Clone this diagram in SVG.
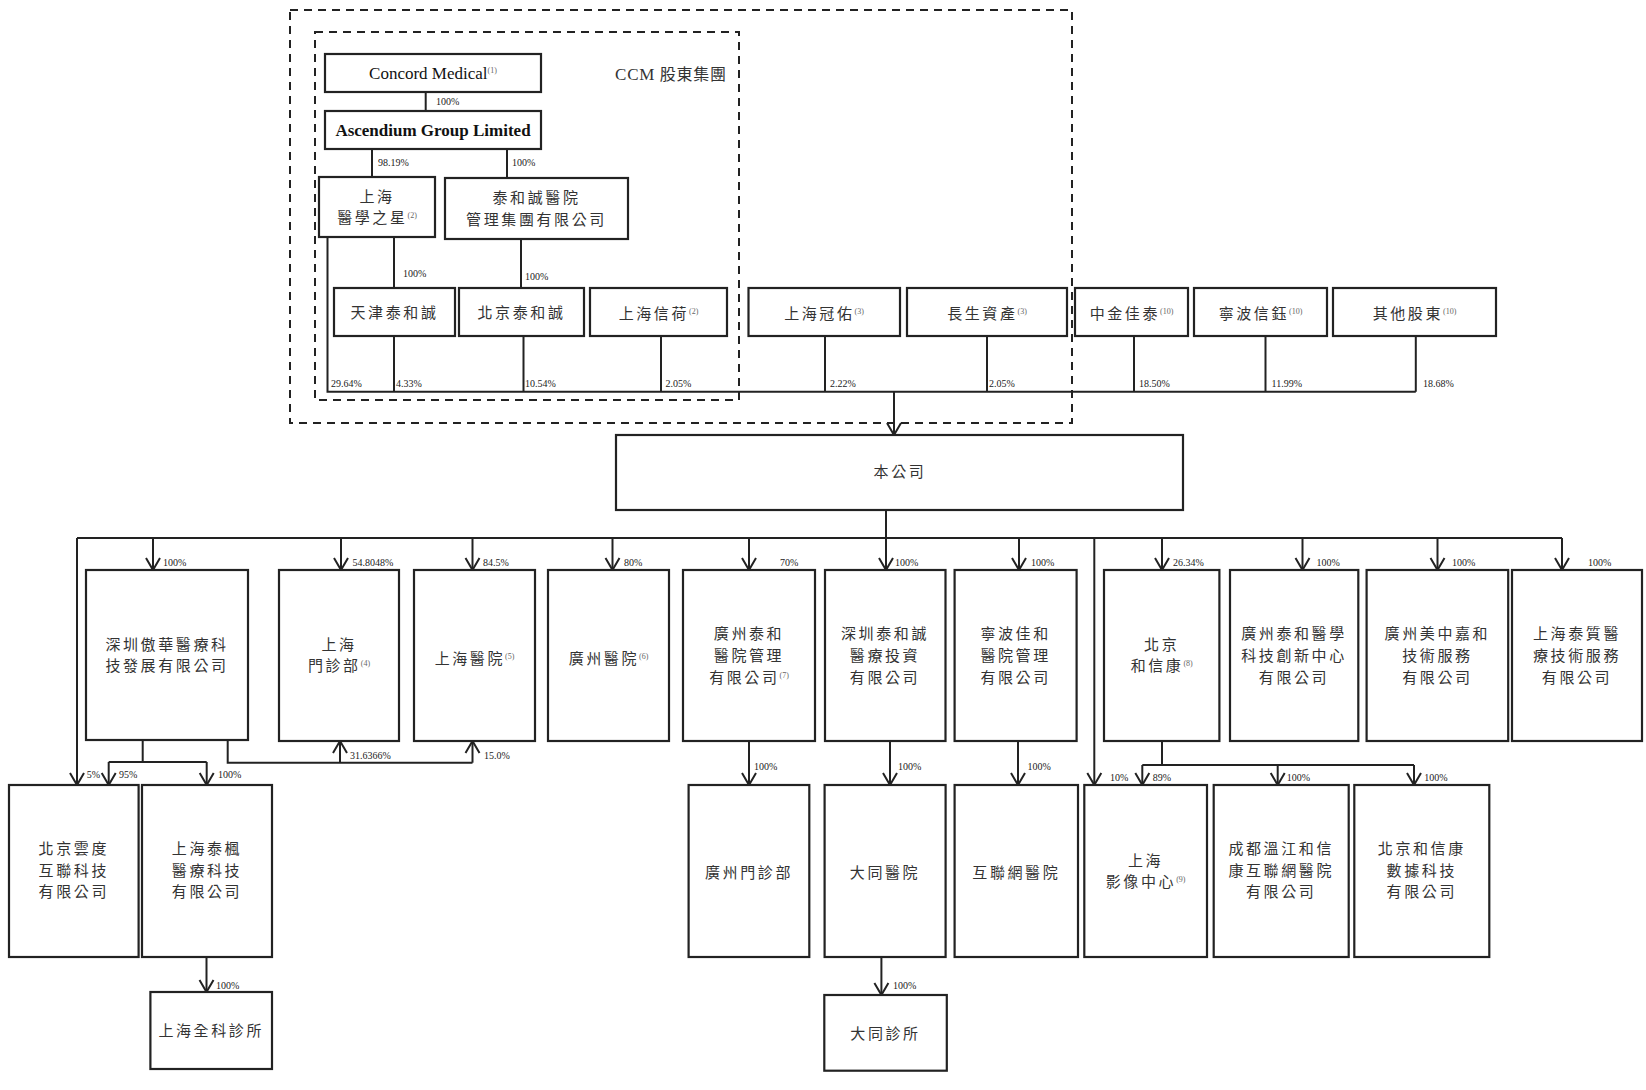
<svg xmlns="http://www.w3.org/2000/svg" width="1646" height="1090" viewBox="0 0 1646 1090">
<defs>
<style>
.bx{fill:#fff;stroke:#222;stroke-width:2.2}
.t{font-family:"Noto Sans CJK TC","Noto Sans CJK SC",sans-serif;font-size:15px;fill:#333;letter-spacing:2.6px;text-anchor:middle}
.e{font-family:"Liberation Serif",serif;font-size:17px;fill:#111;text-anchor:middle}
.p{font-family:"Liberation Serif",serif;font-size:10px;fill:#222}
.s{font-family:"Liberation Serif",serif;font-size:8px;fill:#666;letter-spacing:0}
.ln{fill:none;stroke:#222;stroke-width:2}
.ar{fill:none;stroke:#222;stroke-width:2;marker-end:url(#arr)}
.dash{fill:none;stroke:#222;stroke-width:2;stroke-dasharray:8 6}
</style>
<marker id="arr" markerUnits="userSpaceOnUse" viewBox="-14 -8 16 16" refX="0" refY="0" markerWidth="16" markerHeight="16" orient="auto" overflow="visible">
<path d="M-12,-7 L0,0 L-12,7" fill="none" stroke="#222" stroke-width="2"/>
</marker>
</defs>
<rect width="1646" height="1090" fill="#fff"/>

<g id="groups">
<rect class="dash" x="290" y="10" width="782" height="413"/>
<rect class="dash" x="315" y="32" width="424" height="368"/>
<text x="671" y="80" class="t" style="letter-spacing:0.8px;font-size:16px"><tspan font-family="Liberation Serif" font-size="17">CCM</tspan> 股東集團</text>
</g>

<g id="connectors">
<path class="ln" d="M425.7,92 V111"/>
<path class="ln" d="M372,149 V177"/>
<path class="ln" d="M507,149 V178"/>
<path class="ln" d="M394,237 V288"/>
<path class="ln" d="M521,239 V288"/>
<path class="ln" d="M327.5,237 V391.7 H1415.8"/>
<path class="ln" d="M394,336 V391.7 M523.5,336 V391.7 M661,336 V391.7 M825,336 V391.7 M987,336 V391.7 M1134,336 V391.7 M1265.5,336 V391.7 M1415.8,336 V391.7"/>
<path class="ar" d="M894,391.7 V435"/>
<path class="ar" d="M886,510 V570"/>
<path class="ln" d="M77,538 H1562"/>
<path class="ar" d="M77,538 V785"/>
<path class="ar" d="M1094.3,538 V785"/>
<path class="ar" d="M153,538 V570"/>
<path class="ar" d="M341,538 V570"/>
<path class="ar" d="M472.5,538 V570"/>
<path class="ar" d="M612.5,538 V570"/>
<path class="ar" d="M749,538 V570"/>
<path class="ar" d="M1019,538 V570"/>
<path class="ar" d="M1162,538 V570"/>
<path class="ar" d="M1302.5,538 V570"/>
<path class="ar" d="M1437.5,538 V570"/>
<path class="ar" d="M1562,538 V570"/>
<path class="ln" d="M142.7,740 V762 M108.7,762 H206.7"/>
<path class="ar" d="M108.7,762 V785"/>
<path class="ar" d="M206.7,762 V785"/>
<path class="ln" d="M227.7,740 V762.7 H472.5"/>
<path class="ar" d="M340,762.7 V741"/>
<path class="ar" d="M472.5,762.7 V741"/>
<path class="ar" d="M206.5,957 V992"/>
<path class="ar" d="M749,741 V785"/>
<path class="ar" d="M890,741 V785"/>
<path class="ar" d="M881.4,957 V995"/>
<path class="ar" d="M1018,741 V785"/>
<path class="ln" d="M1162,741 V765 M1142.3,765 H1414"/>
<path class="ar" d="M1142.3,765 V785"/>
<path class="ar" d="M1277.7,765 V785"/>
<path class="ar" d="M1414,765 V785"/>
</g>

<g id="labels">
<text class="p" x="436" y="105">100%</text>
<text class="p" x="378" y="166">98.19%</text>
<text class="p" x="512" y="166">100%</text>
<text class="p" x="403" y="277">100%</text>
<text class="p" x="525" y="280">100%</text>
<text class="p" x="331" y="387">29.64%</text>
<text class="p" x="396" y="387">4.33%</text>
<text class="p" x="525" y="387">10.54%</text>
<text class="p" x="665.5" y="387">2.05%</text>
<text class="p" x="830" y="387">2.22%</text>
<text class="p" x="989" y="387">2.05%</text>
<text class="p" x="1139" y="387">18.50%</text>
<text class="p" x="1271.5" y="387">11.99%</text>
<text class="p" x="1423" y="387">18.68%</text>
<text class="p" x="163" y="566">100%</text>
<text class="p" x="352.5" y="566">54.8048%</text>
<text class="p" x="483" y="566">84.5%</text>
<text class="p" x="624" y="566">80%</text>
<text class="p" x="780" y="566">70%</text>
<text class="p" x="895" y="566">100%</text>
<text class="p" x="1031" y="566">100%</text>
<text class="p" x="1173" y="566">26.34%</text>
<text class="p" x="1316.5" y="566">100%</text>
<text class="p" x="1452" y="566">100%</text>
<text class="p" x="1588" y="566">100%</text>
<text class="p" x="86.7" y="778">5%</text>
<text class="p" x="119" y="778">95%</text>
<text class="p" x="218" y="778">100%</text>
<text class="p" x="350" y="759">31.6366%</text>
<text class="p" x="484" y="759">15.0%</text>
<text class="p" x="754" y="770">100%</text>
<text class="p" x="898" y="770">100%</text>
<text class="p" x="1027.5" y="770">100%</text>
<text class="p" x="1110" y="781">10%</text>
<text class="p" x="1152.7" y="781">89%</text>
<text class="p" x="1286.7" y="781">100%</text>
<text class="p" x="1424.3" y="781">100%</text>
<text class="p" x="216" y="989">100%</text>
<text class="p" x="893" y="989">100%</text>
</g>

<g id="concord-medical"><rect class="bx" x="325" y="54" width="216" height="38"/><text class="e" x="433" y="79">Concord Medical<tspan class="s" font-size="9" fill="#222" dy="-6">(1)</tspan></text></g>
<g id="ascendium"><rect class="bx" x="325" y="111" width="216" height="38"/><text class="e" x="433" y="136" font-weight="bold" font-size="16.5">Ascendium Group Limited</text></g>
<g id="shanghai-yixuezhixing"><rect class="bx" x="319" y="177" width="116" height="60"/><text class="t"><tspan x="377" y="201.6">上海</tspan><tspan x="377" y="223.4">醫學之星<tspan class="s" dy="-5">(2)</tspan></tspan></text></g>
<g id="taihecheng-group"><rect class="bx" x="445" y="178" width="183" height="61"/><text class="t"><tspan x="536.5" y="203.1">泰和誠醫院</tspan><tspan x="536.5" y="224.9">管理集團有限公司</tspan></text></g>

<g id="tianjin-taihecheng"><rect class="bx" x="334" y="288" width="121" height="48"/><text class="t" x="394.5" y="318">天津泰和誠</text></g>
<g id="beijing-taihecheng"><rect class="bx" x="459" y="288" width="125" height="48"/><text class="t" x="521.5" y="318">北京泰和誠</text></g>
<g id="shanghai-xinhe"><rect class="bx" x="590" y="288" width="137" height="48"/><text class="t" x="658.5" y="319">上海信荷<tspan class="s" dy="-5">(2)</tspan></text></g>
<g id="shanghai-guanyou"><rect class="bx" x="748.5" y="288" width="151.5" height="48"/><text class="t" x="824" y="319">上海冠佑<tspan class="s" dy="-5">(3)</tspan></text></g>
<g id="changsheng"><rect class="bx" x="907" y="288" width="160" height="48"/><text class="t" x="987" y="319">長生資產<tspan class="s" dy="-5">(3)</tspan></text></g>
<g id="zhongjin-jiatai"><rect class="bx" x="1075" y="288" width="113" height="48"/><text class="t" x="1131.5" y="319">中金佳泰<tspan class="s" dy="-5">(10)</tspan></text></g>
<g id="ningbo-xinyu"><rect class="bx" x="1194" y="288" width="133" height="48"/><text class="t" x="1260.5" y="319">寧波信鈺<tspan class="s" dy="-5">(10)</tspan></text></g>
<g id="other-shareholders"><rect class="bx" x="1333" y="288" width="163" height="48"/><text class="t" x="1414.5" y="319">其他股東<tspan class="s" dy="-5">(10)</tspan></text></g>

<g id="company"><rect class="bx" x="616" y="435" width="567" height="75"/><text class="t" x="900" y="477">本公司</text></g>

<g id="shenzhen-aohua"><rect class="bx" x="86" y="570" width="162" height="170"/><text class="t"><tspan x="167" y="649.6">深圳傲華醫療科</tspan><tspan x="167" y="671.4">技發展有限公司</tspan></text></g>
<g id="shanghai-clinic"><rect class="bx" x="279" y="570" width="120" height="171"/><text class="t"><tspan x="339" y="649.6">上海</tspan><tspan x="339" y="671.4">門診部<tspan class="s" dy="-5">(4)</tspan></tspan></text></g>
<g id="shanghai-hospital"><rect class="bx" x="414" y="570" width="121" height="171"/><text class="t" x="474.5" y="664">上海醫院<tspan class="s" dy="-5">(5)</tspan></text></g>
<g id="guangzhou-hospital"><rect class="bx" x="548" y="570" width="121" height="171"/><text class="t" x="608.5" y="664">廣州醫院<tspan class="s" dy="-5">(6)</tspan></text></g>
<g id="guangzhou-taihe"><rect class="bx" x="683" y="570" width="132" height="171"/><text class="t"><tspan x="749" y="639.2">廣州泰和</tspan><tspan x="749" y="661">醫院管理</tspan><tspan x="749" y="682.8">有限公司<tspan class="s" dy="-5">(7)</tspan></tspan></text></g>
<g id="shenzhen-taihecheng"><rect class="bx" x="825" y="570" width="120.5" height="171"/><text class="t"><tspan x="885" y="639.2">深圳泰和誠</tspan><tspan x="885" y="661">醫療投資</tspan><tspan x="885" y="682.8">有限公司</tspan></text></g>
<g id="ningbo-jiahe"><rect class="bx" x="954.6" y="570" width="122" height="171"/><text class="t"><tspan x="1015.6" y="639.2">寧波佳和</tspan><tspan x="1015.6" y="661">醫院管理</tspan><tspan x="1015.6" y="682.8">有限公司</tspan></text></g>
<g id="beijing-hexinkang"><rect class="bx" x="1104" y="570" width="115.4" height="171"/><text class="t"><tspan x="1161.7" y="649.6">北京</tspan><tspan x="1161.7" y="671.4">和信康<tspan class="s" dy="-5">(8)</tspan></tspan></text></g>
<g id="guangzhou-taihe-innovation"><rect class="bx" x="1230" y="570" width="128.3" height="171"/><text class="t"><tspan x="1294" y="639.2">廣州泰和醫學</tspan><tspan x="1294" y="661">科技創新中心</tspan><tspan x="1294" y="682.8">有限公司</tspan></text></g>
<g id="guangzhou-meizhong"><rect class="bx" x="1366.6" y="570" width="141.6" height="171"/><text class="t"><tspan x="1437.4" y="639.2">廣州美中嘉和</tspan><tspan x="1437.4" y="661">技術服務</tspan><tspan x="1437.4" y="682.8">有限公司</tspan></text></g>
<g id="shanghai-taizhi"><rect class="bx" x="1512" y="570" width="130" height="171"/><text class="t"><tspan x="1577" y="639.2">上海泰質醫</tspan><tspan x="1577" y="661">療技術服務</tspan><tspan x="1577" y="682.8">有限公司</tspan></text></g>

<g id="beijing-yundu"><rect class="bx" x="9" y="785" width="129.6" height="172"/><text class="t"><tspan x="73.8" y="853.7">北京雲度</tspan><tspan x="73.8" y="875.5">互聯科技</tspan><tspan x="73.8" y="897.3">有限公司</tspan></text></g>
<g id="shanghai-taifeng"><rect class="bx" x="142" y="785" width="130" height="172"/><text class="t"><tspan x="207" y="853.7">上海泰楓</tspan><tspan x="207" y="875.5">醫療科技</tspan><tspan x="207" y="897.3">有限公司</tspan></text></g>
<g id="guangzhou-clinic"><rect class="bx" x="688.6" y="785" width="120.7" height="172"/><text class="t" x="749" y="878">廣州門診部</text></g>
<g id="datong-hospital"><rect class="bx" x="824.6" y="785" width="121" height="172"/><text class="t" x="885" y="878">大同醫院</text></g>
<g id="internet-hospital"><rect class="bx" x="954.6" y="785" width="123.4" height="172"/><text class="t" x="1016.3" y="878">互聯網醫院</text></g>
<g id="shanghai-imaging"><rect class="bx" x="1084.3" y="785" width="122.7" height="172"/><text class="t"><tspan x="1145.6" y="865.6">上海</tspan><tspan x="1145.6" y="887.4">影像中心<tspan class="s" dy="-5">(9)</tspan></tspan></text></g>
<g id="chengdu-wenjiang"><rect class="bx" x="1213.7" y="785" width="135" height="172"/><text class="t"><tspan x="1281.2" y="853.7">成都溫江和信</tspan><tspan x="1281.2" y="875.5">康互聯網醫院</tspan><tspan x="1281.2" y="897.3">有限公司</tspan></text></g>
<g id="beijing-hexinkang-data"><rect class="bx" x="1354.3" y="785" width="135" height="172"/><text class="t"><tspan x="1421.8" y="853.7">北京和信康</tspan><tspan x="1421.8" y="875.5">數據科技</tspan><tspan x="1421.8" y="897.3">有限公司</tspan></text></g>

<g id="shanghai-general-clinic"><rect class="bx" x="150.4" y="992" width="121.6" height="77"/><text class="t" x="211.2" y="1036">上海全科診所</text></g>
<g id="datong-clinic"><rect class="bx" x="824.3" y="995" width="122.5" height="75.7"/><text class="t" x="885.5" y="1039">大同診所</text></g>
</svg>
